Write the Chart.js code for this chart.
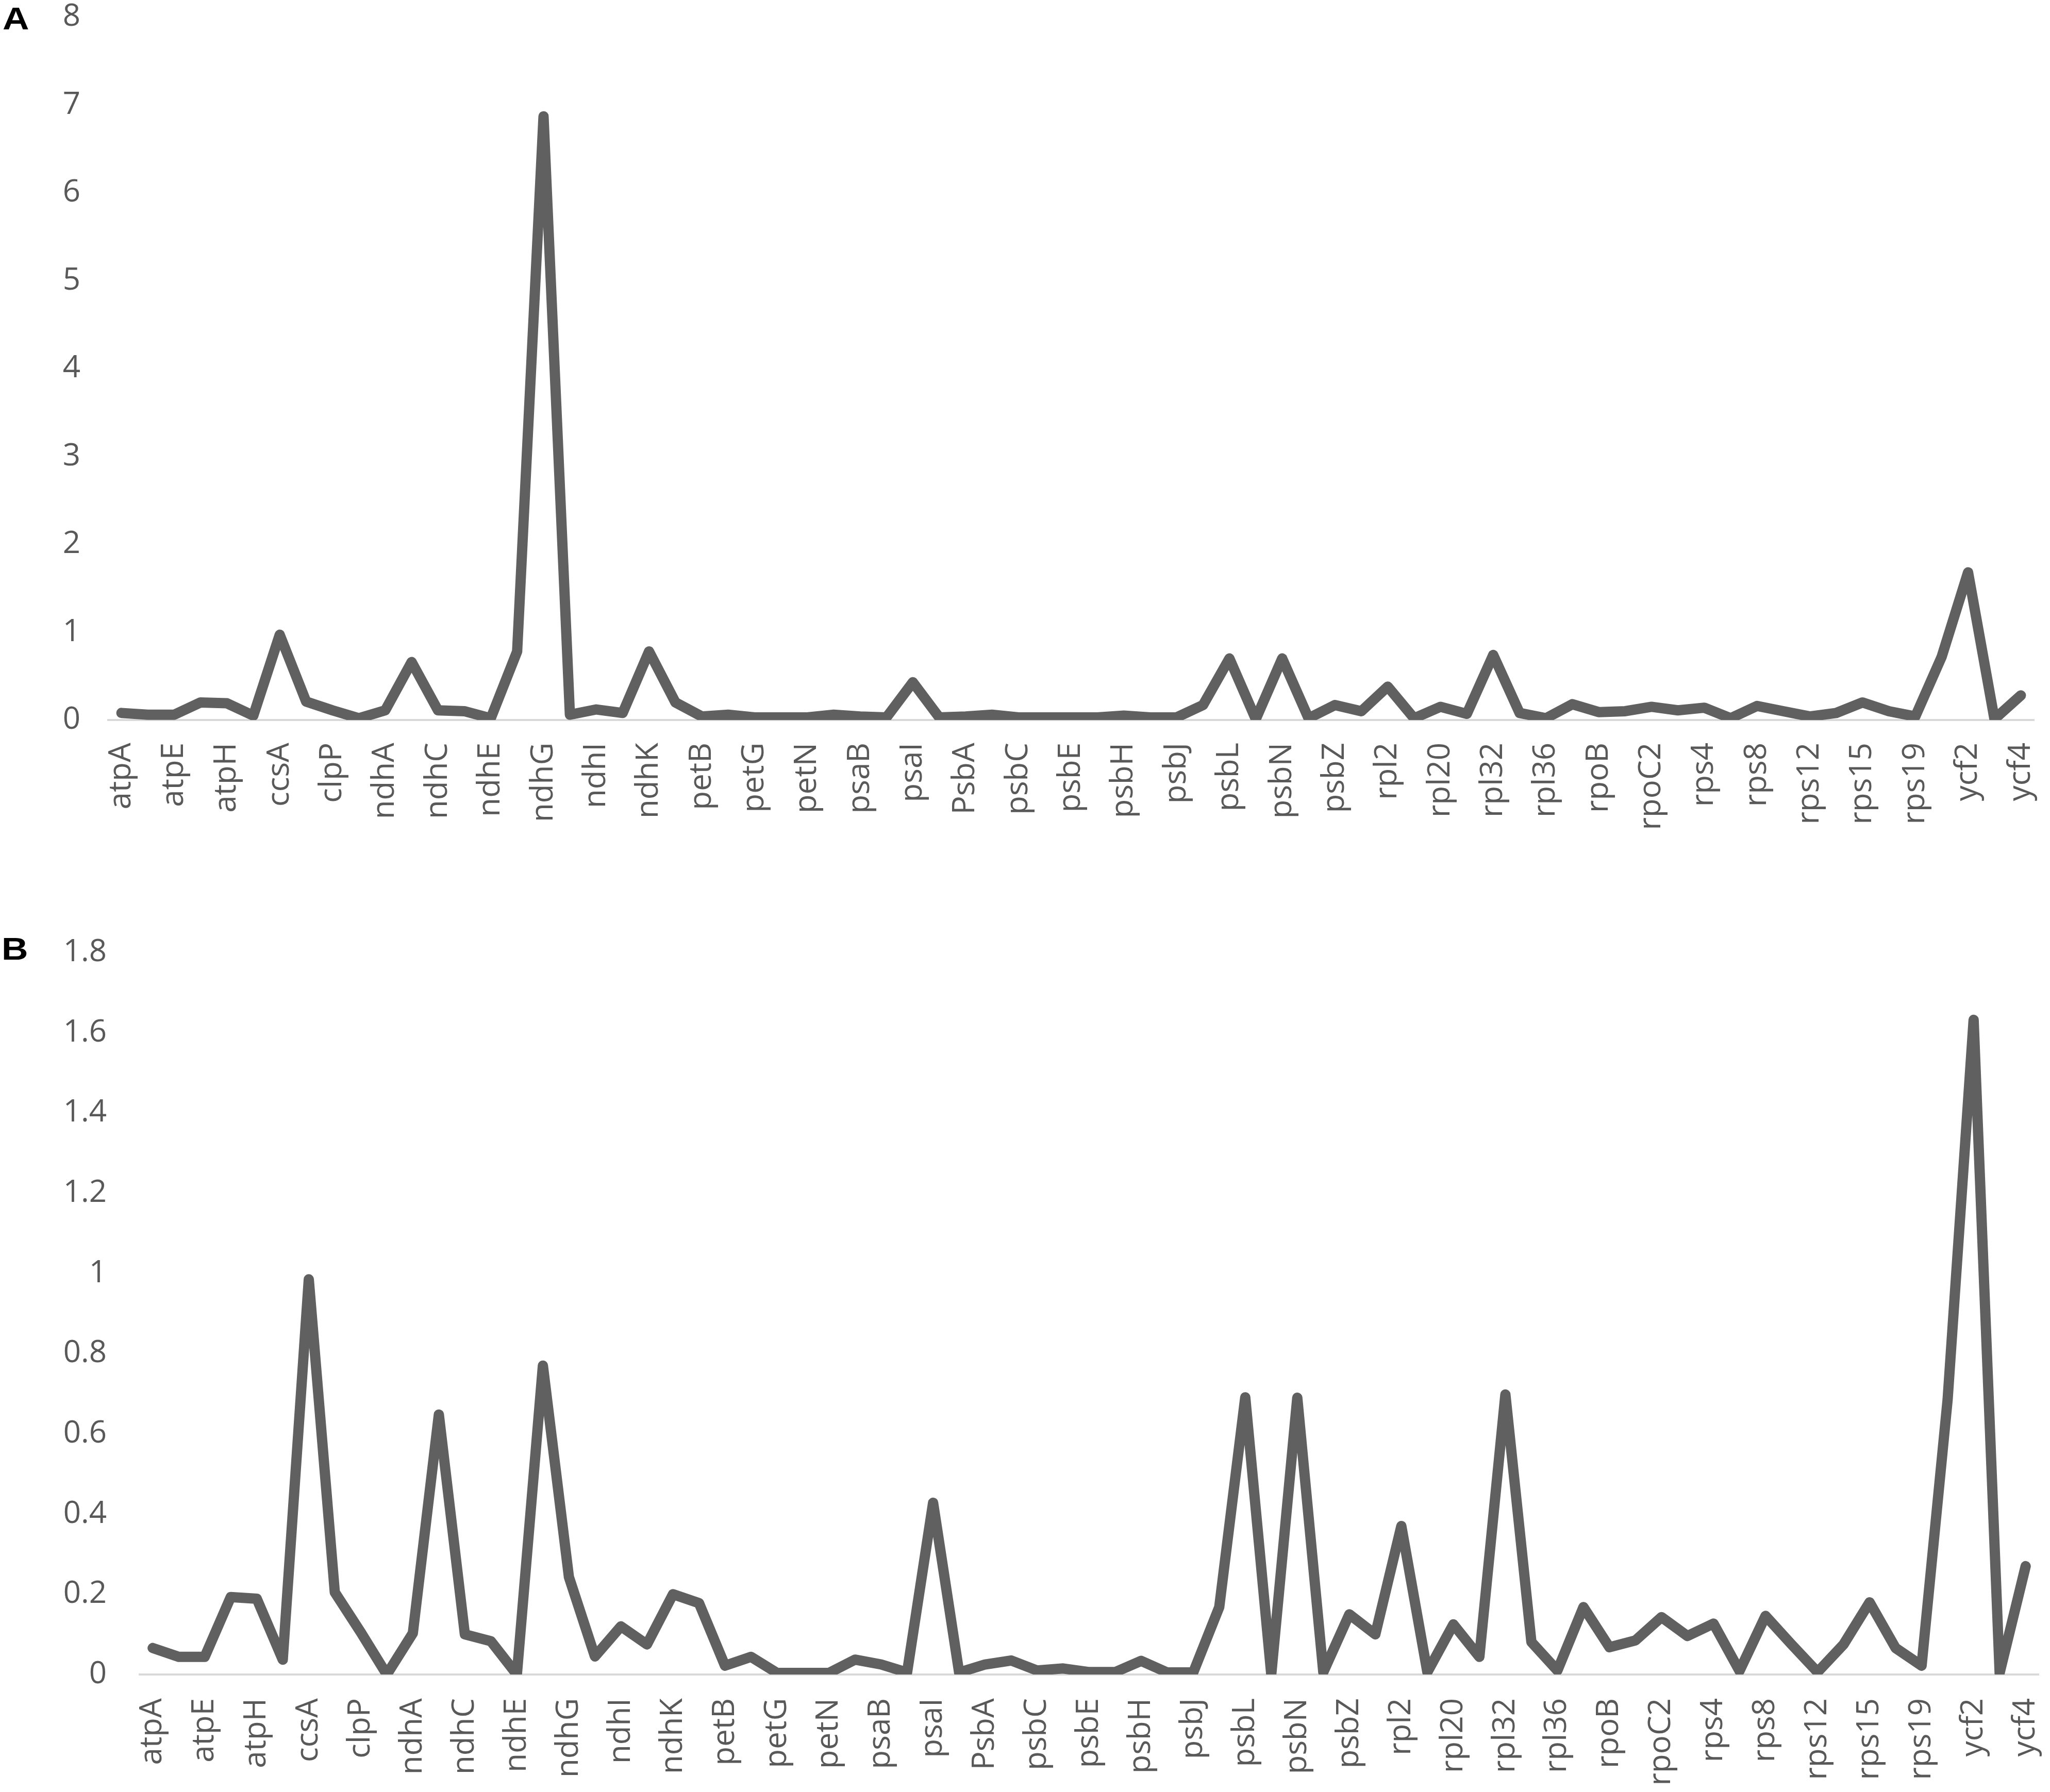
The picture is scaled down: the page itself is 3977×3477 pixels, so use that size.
<!DOCTYPE html>
<html>
<head>
<meta charset="utf-8">
<script src="https://cdn.jsdelivr.net/npm/chart.js@4.4.1/dist/chart.umd.min.js"></script>
<style>
  html, body { margin: 0; padding: 0; background: #fff; }
  body { width: 3977px; height: 3477px; position: relative; overflow: hidden; }
  .panel-tag { position: absolute; font: bold 62px "Liberation Sans", Arial, sans-serif; color: #000; line-height: 1; transform: scaleX(1.15); transform-origin: left top; }
  canvas { position: absolute; left: 0; }
</style>
</head>
<body>
<div class="panel-tag" style="left:5px;top:5px">A</div>
<canvas id="chart-a" width="3977" height="1700" style="top:0"></canvas>
<div class="panel-tag" style="left:3px;top:1810px">B</div>
<canvas id="chart-b" width="3977" height="1697" style="top:1780px"></canvas>

<script>
// ---- data ----
const genes = [
  'atpA', 'atpB', 'atpE', 'atpF', 'atpH', 'atpI', 'ccsA', 'cemA', 'clpP', 'matK',
  'ndhA', 'ndhB', 'ndhC', 'ndhD', 'ndhE', 'ndhF', 'ndhG', 'ndhH', 'ndhI', 'ndhJ',
  'ndhK', 'petA', 'petB', 'petD', 'petG', 'petL', 'petN', 'psaA', 'psaB', 'psaC',
  'psaI', 'psaJ', 'PsbA', 'psbB', 'psbC', 'psbD', 'psbE', 'psbF', 'psbH', 'psbI',
  'psbJ', 'psbK', 'psbL', 'psbM', 'psbN', 'psbT', 'psbZ', 'rbcL', 'rpl2', 'rpl14',
  'rpl20', 'rpl22', 'rpl32', 'rpl33', 'rpl36', 'rpoA', 'rpoB', 'rpoC1', 'rpoC2', 'rps3',
  'rps4', 'rps7', 'rps8', 'rps11', 'rps12', 'rps14', 'rps15', 'rps18', 'rps19', 'ycf1',
  'ycf2', 'ycf3', 'ycf4'
];

const valuesA = [
  0.08, 0.06, 0.06, 0.20, 0.19, 0.05, 0.97, 0.21, 0.11, 0.02,
  0.11, 0.66, 0.11, 0.10, 0.02, 0.78, 6.87, 0.06, 0.12, 0.08,
  0.78, 0.20, 0.04, 0.06, 0.03, 0.03, 0.03, 0.06, 0.04, 0.03,
  0.43, 0.03, 0.04, 0.06, 0.03, 0.03, 0.03, 0.03, 0.05, 0.03,
  0.03, 0.17, 0.70, 0.01, 0.70, 0.02, 0.17, 0.10, 0.38, 0.02,
  0.15, 0.07, 0.74, 0.08, 0.02, 0.18, 0.09, 0.10, 0.15, 0.11,
  0.14, 0.02, 0.16, 0.10, 0.04, 0.08, 0.20, 0.10, 0.04, 0.72,
  1.68, 0.01, 0.28
];

const valuesB = [
  0.066, 0.044, 0.044, 0.193, 0.189, 0.037, 0.985, 0.205, 0.105, 0.0,
  0.103, 0.648, 0.100, 0.083, 0.0, 0.770, 0.243, 0.045, 0.120, 0.075,
  0.200, 0.178, 0.022, 0.044, 0.004, 0.004, 0.004, 0.037, 0.025, 0.005,
  0.428, 0.005, 0.025, 0.035, 0.010, 0.015, 0.006, 0.006, 0.034, 0.005,
  0.005, 0.168, 0.691, 0.0, 0.690, 0.006, 0.150, 0.100, 0.370, 0.006,
  0.125, 0.044, 0.698, 0.081, 0.010, 0.168, 0.068, 0.085, 0.143, 0.096,
  0.127, 0.009, 0.146, 0.075, 0.006, 0.075, 0.180, 0.066, 0.022, 0.685,
  1.632, 0.004, 0.270
];

const yTicksA = [0, 1, 2, 3, 4, 5, 6, 7, 8];
const yTicksB = [0, 0.2, 0.4, 0.6, 0.8, 1, 1.2, 1.4, 1.6, 1.8];

// ---- styling ----
const lineColor = '#606060';
const textColor = '#595959';
const tickFont = { family: '"Open Sans", "Noto Sans", sans-serif', size: 60 };

function buildPanel(canvas, values, yTicks, geo) {
  return new Chart(canvas, {
    type: 'line',
    data: {
      labels: genes,
      datasets: [{
        data: values,
        borderColor: lineColor,
        borderWidth: 20,
        borderJoinStyle: 'round',
        borderCapStyle: 'round',
        pointRadius: 0,
        tension: 0,
        fill: false
      }]
    },
    options: {
      responsive: false,
      animation: false,
      events: [],
      layout: { padding: { top: geo.top, right: canvas.width - geo.right, left: 0, bottom: 0 } },
      plugins: { legend: { display: false }, tooltip: { enabled: false } },
      scales: {
        x: {
          type: 'category',
          offset: true,
          grid: { display: false, drawTicks: false, tickLength: 0 },
          border: { display: true, color: '#d9d9d9', width: 4 },
          ticks: {
            autoSkip: false,
            minRotation: 90,
            maxRotation: 90,
            padding: geo.xPad,
            color: textColor,
            font: tickFont,
            callback: (v, i) => (i % 2 === 0 ? genes[i] : null)
          },
          afterFit: (s) => { s.height = geo.axisHeight; s.paddingLeft = 0; s.paddingRight = 0; }
        },
        y: {
          min: yTicks[0],
          max: yTicks[yTicks.length - 1],
          grid: { display: false, drawTicks: false, tickLength: 0 },
          border: { display: false },
          afterBuildTicks: (s) => { s.ticks = yTicks.map(v => ({ value: v })); },
          ticks: {
            padding: geo.yPad,
            color: textColor,
            font: tickFont,
            callback: (v) => String(+Number(v).toFixed(1))
          },
          afterFit: (s) => { s.width = geo.left; s.paddingTop = 0; s.paddingBottom = 0; }
        }
      }
    }
  });
}

buildPanel(document.getElementById('chart-a'), valuesA, yTicksA,
  { left: 210, right: 3946, top: 33, axisHeight: 303, yPad: 54, xPad: 44 });

buildPanel(document.getElementById('chart-b'), valuesB, yTicksB,
  { left: 271, right: 3955, top: 68, axisHeight: 228, yPad: 64, xPad: 46 });
</script>
</body>
</html>
